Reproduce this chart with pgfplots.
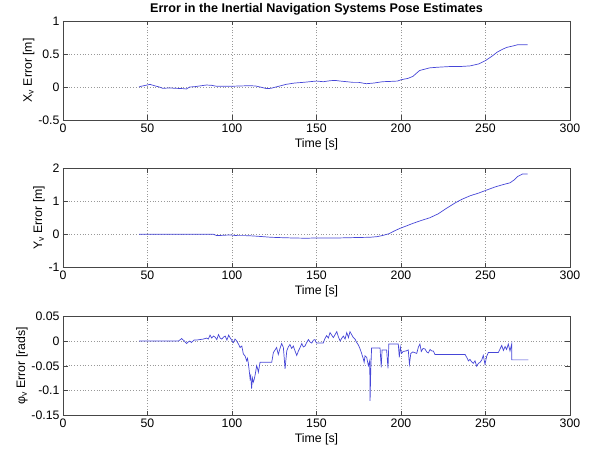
\documentclass[border=0pt]{standalone}
\usepackage{pgfplots}
\pgfplotsset{compat=1.18}
\usepackage{fontspec}
\setmainfont{Liberation Sans}
\definecolor{dataline}{RGB}{70,70,215}
\definecolor{boxgray}{RGB}{70,70,70}
\pgfplotsset{
  panel/.style={
    scale only axis, width=507pt, height=99pt,
    xmin=0, xmax=300, xtick={0,50,...,300},
    anchor=south west,
    no markers,
    grid=major, grid style={dash pattern=on 0.8pt off 2pt, black!40, line width=0.6pt},
    axis line style={boxgray, line width=0.6pt},
    tick align=inside, major tick length=4.5pt, tick style={boxgray, line width=0.5pt},
    tick label style={font=\fontsize{12.3}{14}\selectfont},
    label style={font=\fontsize{12.3}{14}\selectfont},
    xlabel={Time [s]},
    xlabel style={yshift=1pt},
    ylabel style={yshift=-3pt},
    /pgf/number format/assume math mode=true,
    scaled ticks=false,
  },
  dl/.style={dataline, line width=0.7pt, mark=none}
}
\begin{document}
\begin{tikzpicture}
\path[use as bounding box] (0,0) rectangle (590pt,-454pt);

\begin{axis}[panel, at={(63pt,-120pt)},
  ymin=-0.5, ymax=1, ytick={-0.5,0,0.5,1}, yticklabels={-0.5,0,0.5,1},
  ylabel={X\textsubscript{v} Error [m]},
  title={\bfseries Error in the Inertial Navigation Systems Pose Estimates},
  title style={font=\fontsize{12.6}{14}\selectfont, yshift=-4pt}]
\addplot[dl] coordinates {
(45,0.0) (46,0.01) (48,0.02) (51.5,0.04) (54,0.02) (57,0.0) (59,-0.02) (63,-0.015)
(67,-0.02) (71,-0.025) (73,-0.03) (75,0.0) (78,0.005) (82,0.02) (85,0.03) (88,0.025)
(91,0.01) (95,0.01) (99,0.01) (104,0.015) (110.6,0.02) (114,0.015) (116.6,0.0)
(120.5,-0.025) (123,-0.02) (126,0.0) (129,0.02) (132,0.04) (137,0.06) (142,0.07)
(146,0.08) (150,0.09) (154,0.08) (158,0.095) (161,0.1) (164,0.09) (168,0.08)
(171.6,0.07) (175,0.07) (179.5,0.05) (184,0.06) (189,0.08) (194,0.085) (198,0.09)
(200,0.11) (204,0.13) (207,0.16) (211,0.25) (214,0.27) (217,0.29) (222,0.30)
(229,0.31) (235,0.31) (241,0.32) (246,0.35) (250,0.40) (254,0.47) (257,0.53)
(260,0.57) (262.5,0.60) (266,0.62) (269,0.64) (275,0.64)
};
\end{axis}

\begin{axis}[panel, at={(63pt,-267.3pt)},
  ymin=-1, ymax=2, ytick={-1,0,1,2}, yticklabels={-1,0,1,2},
  ylabel={Y\textsubscript{v} Error [m]}]
\addplot[dl] coordinates {
(45,0.0) (60,0.0) (75,0.0) (89,0.0) (91,-0.04) (95,-0.03) (98.8,-0.02) (103,-0.04)
(108,-0.04) (112.4,-0.05) (118,-0.07) (123,-0.09) (128.4,-0.10) (135,-0.11)
(144,-0.12) (150,-0.11) (157,-0.11) (163.9,-0.11) (172,-0.10) (181.7,-0.09)
(186,-0.07) (189.6,-0.03) (193,0.02) (196,0.10) (199.4,0.18) (203,0.25) (207,0.33)
(212,0.42) (217,0.50) (222,0.62) (227,0.79) (232,0.95) (236,1.06) (241,1.17)
(246,1.25) (250.6,1.34) (256,1.44) (260,1.50) (264.5,1.56) (267,1.65) (269,1.75)
(272,1.83) (275,1.83)
};
\end{axis}

\begin{axis}[panel, at={(63pt,-415.3pt)},
  ymin=-0.15, ymax=0.05, ytick={-0.15,-0.1,-0.05,0,0.05},
  yticklabels={-0.15,-0.1,-0.05,0,0.05},
  ylabel={φ\textsubscript{v} Error [rads]}]
\addplot[dl] coordinates {
(45,0.0) (60,0.0) (68.3,0.0) (70.2,0.005) (71.5,0.001) (73.2,-0.005) (74,-0.002)
(75,0.0) (76,-0.003) (77.5,0.002) (79,0.002) (81,0.003) (83,0.004) (85,0.006)
(86,0.004) (87,0.012) (88,0.006) (89,0.01) (90,0.008) (91,0.003) (92,0.013)
(93,0.006) (94,0.004) (95,0.008) (96,0.01) (97,0.002) (98,0.012) (98.8,0.007)
(99.8,0.002) (100.8,-0.003) (101.8,0.004) (102.8,0.0) (103.8,-0.006) (104.8,-0.013)
(105.8,-0.01) (106.7,-0.026) (107.7,-0.03) (108.7,-0.04) (109.2,-0.035) (109.7,-0.046)
(110.2,-0.06) (110.7,-0.076) (111.1,-0.07) (111.6,-0.096) (112.1,-0.075) (112.6,-0.083) (113.1,-0.078) (113.6,-0.07)
(114.1,-0.06) (114.6,-0.05) (115.1,-0.055) (115.6,-0.063) (116.6,-0.043) (123.5,-0.043) (124.5,-0.023)
(125.5,-0.018) (126.4,-0.013) (127.4,-0.027) (128.4,-0.015) (129.4,-0.005)
(130.4,-0.013) (131.4,-0.056) (132.4,-0.02) (133.3,-0.012) (134.3,-0.007)
(135.3,-0.015) (136.3,-0.01) (137.3,-0.02) (138.3,-0.029) (139.3,-0.02)
(140.3,-0.013) (141.3,-0.005) (142.2,-0.012) (143.2,-0.01) (144.2,-0.003)
(145.2,0.003) (146.2,-0.002) (147.2,-0.004) (148.2,0.002) (149.1,0.003)
(150,-0.004) (154,-0.004) (155,0.005) (156,0.011) (157,0.006) (158,0.017)
(159,0.012) (160,0.007) (161,0.013) (162,0.019) (163,0.008) (164,0.0) (165,0.006)
(165.9,0.01) (166.9,0.004) (167.9,0.017) (168.9,0.007) (169.8,0.019) (170.8,0.013)
(171.8,0.007) (172.8,0.004) (173.8,-0.003) (174.8,-0.008) (175.8,-0.016)
(176.7,-0.025) (177.7,-0.036) (178.2,-0.043) (178.7,-0.03) (179.7,-0.033)
(180.7,-0.05) (181.5,-0.04) (181.7,-0.121) (182.1,-0.06) (182.6,-0.014)
(187.6,-0.014) (188.3,-0.053) (188.8,-0.018) (191.5,-0.018) (192.3,-0.055)
(192.8,-0.006) (198.4,-0.006) (199,-0.033) (199.6,-0.012) (200.3,-0.025)
(201.3,-0.021) (203,-0.02) (204.3,-0.018) (205,-0.047) (205.8,-0.025) (207,-0.022)
(209.3,-0.025) (210.3,-0.012) (211.2,-0.006) (212,-0.021) (213,-0.015)
(214.2,-0.016) (215.2,-0.022) (216.2,-0.024) (217.2,-0.017) (218.2,-0.02)
(219.1,-0.02) (220.1,-0.027) (237.9,-0.027) (238.9,-0.033) (239.9,-0.04)
(240.8,-0.037) (241.8,-0.042) (242.8,-0.045) (243.8,-0.04) (244.8,-0.051)
(245.8,-0.045) (246.8,-0.043) (247.8,-0.038) (248.7,-0.029) (249.7,-0.047)
(250.7,-0.031) (251.7,-0.023) (257.6,-0.023) (258.6,-0.016) (259.6,-0.009)
(260.6,-0.019) (261.6,-0.011) (262.5,-0.017) (263.5,-0.006) (264.5,-0.02)
(265.5,-0.006) (265.5,-0.038) (275.3,-0.038)
};
\end{axis}
\end{tikzpicture}
\end{document}
